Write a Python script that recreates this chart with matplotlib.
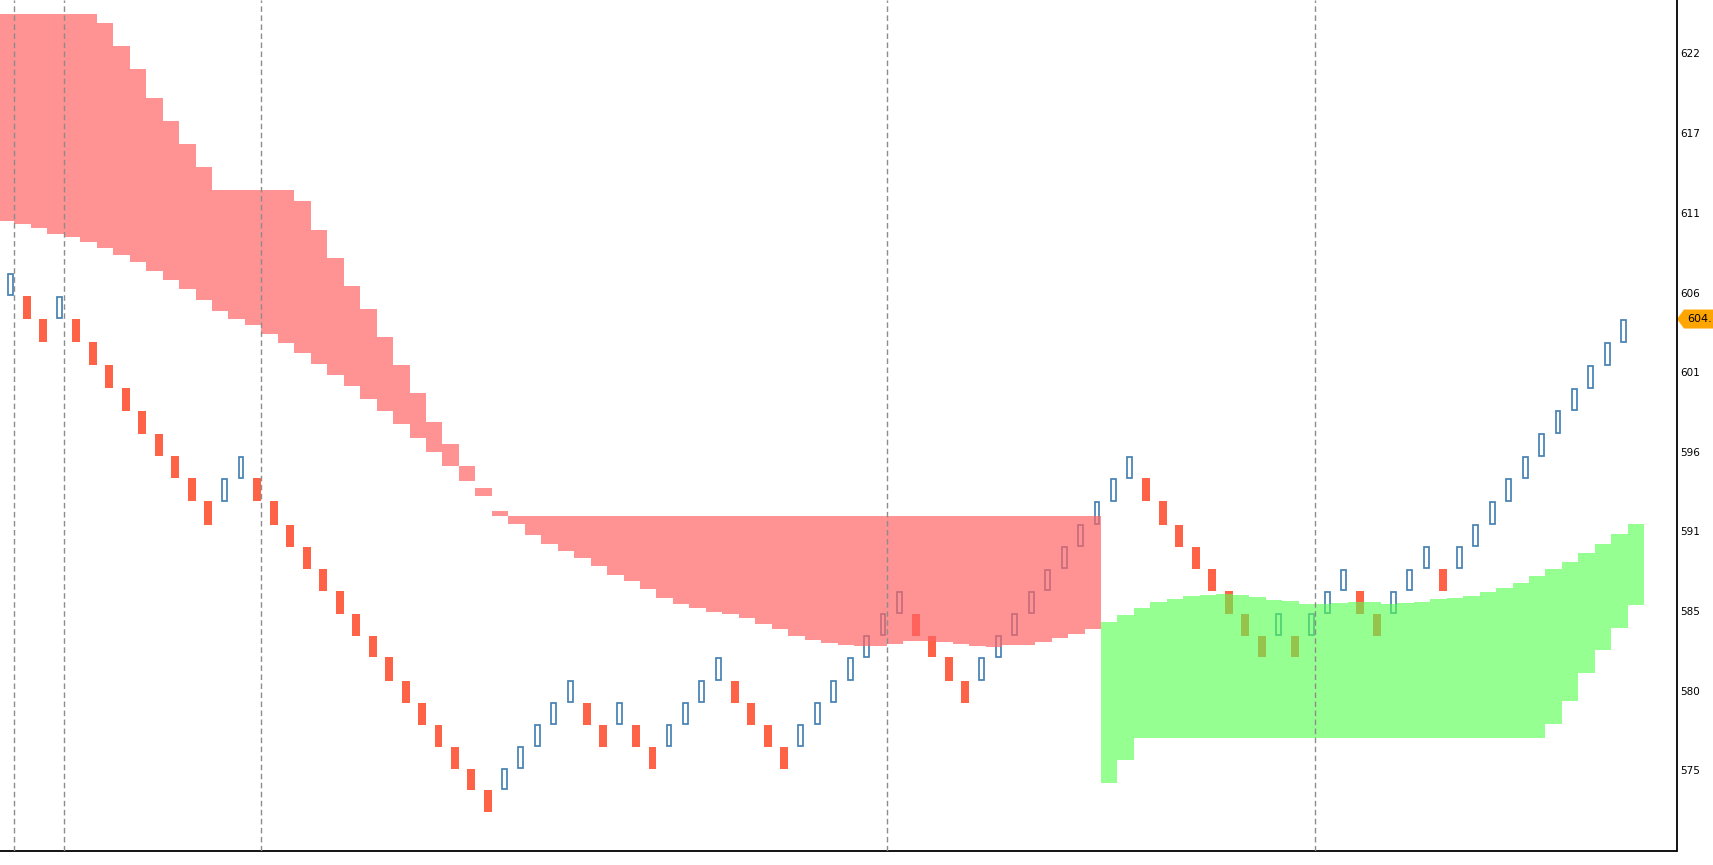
import matplotlib
matplotlib.use("Agg")
import matplotlib.pyplot as plt
import numpy as np
from matplotlib.patches import Polygon
from matplotlib.transforms import blended_transform_factory

# renko grid: price of each brick boundary, level 0 (lowest) .. 24
LEVEL_PRICES = [571.79, 573.28, 574.67, 576.13, 577.59, 579.05, 580.51, 582.05, 583.49, 584.95,
                586.45, 587.92, 589.39, 590.86, 592.40, 593.92, 595.39, 596.90, 598.43, 599.90,
                601.43, 602.95, 604.50, 606.03, 607.53]

# bottom level of each brick and its direction (u = up, d = down)
LEVELS = [23, 22, 21, 22, 21, 20, 19, 18, 17, 16, 15, 14, 13, 14, 15, 14, 13, 12, 11, 10,
          9, 8, 7, 6, 5, 4, 3, 2, 1, 0, 1, 2, 3, 4, 5, 4, 3, 4, 3, 2,
          3, 4, 5, 6, 5, 4, 3, 2, 3, 4, 5, 6, 7, 8, 9, 8, 7, 6, 5, 6,
          7, 8, 9, 10, 11, 12, 13, 14, 15, 14, 13, 12, 11, 10, 9, 8, 7, 8, 7, 8,
          9, 10, 9, 8, 9, 10, 11, 10, 11, 12, 13, 14, 15, 16, 17, 18, 19, 20, 21]
DIRS = ("uddu" "ddddddddd" "uu" "ddddddddddddddd" "uuuuu" "dd" "u" "dd" "uuuu" "dddd"
        "uuuuuuu" "dddd" "uuuuuuuuuu" "dddddddd" "u" "d" "uuu" "dd" "uuu" "d" "uuuuuuuuuuu")

# bearish cloud, one value per brick column 0..66
RED_TOP = [624.74, 624.74, 624.74, 624.74, 624.74, 624.74, 624.14, 622.62, 621.09, 619.17,
           617.64, 616.11, 614.59, 613.06, 613.06, 613.06, 613.06, 613.06, 612.33, 610.41,
           608.55, 606.69, 605.16, 603.31, 601.45, 599.59, 597.67, 596.21, 594.75, 593.29,
           591.76, 591.43, 591.43, 591.43, 591.43, 591.43, 591.43, 591.43, 591.43, 591.43,
           591.43, 591.43, 591.43, 591.43, 591.43, 591.43, 591.43, 591.43, 591.43, 591.43,
           591.43, 591.43, 591.43, 591.43, 591.43, 591.43, 591.43, 591.43, 591.43, 591.43,
           591.43, 591.43, 591.43, 591.43, 591.43, 591.43, 591.43]
RED_BOT = [611.00, 610.80, 610.54, 610.16, 609.94, 609.61, 609.21, 608.75, 608.28, 607.69,
           607.09, 606.49, 605.76, 605.03, 604.50, 604.10, 603.51, 602.91, 602.24, 601.51,
           600.78, 600.05, 599.19, 598.40, 597.53, 596.60, 595.68, 594.75, 593.75, 592.76,
           591.43, 590.90, 590.17, 589.57, 589.11, 588.64, 588.11, 587.51, 587.12, 586.58,
           585.99, 585.59, 585.32, 585.06, 584.93, 584.66, 584.26, 583.93, 583.47, 583.20,
           583.00, 582.87, 582.80, 582.80, 582.93, 583.13, 583.13, 583.07, 582.93, 582.80,
           582.76, 582.85, 582.89, 583.07, 583.33, 583.60, 583.93]
RED_START = 0

# bullish cloud, columns 67..99
GREEN_TOP = [584.39, 584.86, 585.32, 585.72, 585.92, 586.12, 586.19, 586.27, 586.19, 586.05,
             585.85, 585.79, 585.59, 585.59, 585.66, 585.72, 585.72, 585.59, 585.66, 585.72,
             585.92, 585.99, 586.12, 586.38, 586.65, 586.98, 587.45, 587.91, 588.38, 588.97,
             589.57, 590.23, 590.90]
GREEN_BOT = [573.73, 575.26, 576.70, 576.70, 576.70, 576.70, 576.70, 576.70, 576.70, 576.70,
             576.70, 576.70, 576.70, 576.70, 576.70, 576.70, 576.70, 576.70, 576.70, 576.70,
             576.70, 576.70, 576.70, 576.70, 576.70, 576.70, 576.70, 577.63, 579.15, 581.01,
             582.54, 584.00, 585.52]
GREEN_START = 67

# session breaks (brick column after which the line is drawn)
BREAKS = [0, 3, 15, 53, 79]

YTICKS = [574.56, 579.84, 585.12, 590.41, 595.70, 600.98, 606.26, 611.55, 616.83, 622.12]
YTICK_LABELS = ["575", "580", "585", "591", "596", "601", "606", "611", "617", "622"]
LAST_LABEL = "604."

W, H = 1713, 865
fig = plt.figure(figsize=(W / 100, H / 100), dpi=100)
ax = fig.add_axes([0, 14 / H, 1676.5 / W, 1 - 14 / H])

x = np.arange(len(LEVELS))
lv = np.array(LEVELS)
edges = np.array(LEVEL_PRICES)
lo, hi = edges[lv], edges[lv + 1]
up = np.array([d == "u" for d in DIRS])

ax.bar(x[~up], (hi - lo)[~up], bottom=lo[~up], width=0.48,
       color="#FF6347", linewidth=0, zorder=1)
ax.bar(x[up], (hi - lo)[up] - 0.1, bottom=lo[up] + 0.05, width=0.3,
       fill=False, edgecolor="#4682B4", linewidth=1.25, zorder=1)


def cloud(top, bot, start, color, alpha):
    xs = np.arange(start, start + len(top) + 1) - 0.76
    ax.fill_between(xs, np.append(bot, bot[-1]), np.append(top, top[-1]),
                    step="post", color=color, alpha=alpha, linewidth=0, zorder=2)


cloud(RED_TOP, RED_BOT, RED_START, "#FF6464", 0.7)
cloud(GREEN_TOP, GREEN_BOT, GREEN_START, "#55FF50", 0.62)

for b in BREAKS:
    ax.axvline(b + 0.22, color="#8c8c8c", linewidth=1.0, linestyle=(0, (4, 2.5)), zorder=3)

ax.set_xlim(-0.638, 101.2)
ax.set_ylim(569.2, 625.67)
ax.set_xticks([])
ax.yaxis.tick_right()
ax.set_yticks(YTICKS)
ax.set_yticklabels(YTICK_LABELS, fontsize=7.5, family="DejaVu Sans")
ax.tick_params(axis="y", length=0, pad=3)
for s in ("left", "top"):
    ax.spines[s].set_visible(False)
for s in ("right", "bottom"):
    ax.spines[s].set_color("black")
    ax.spines[s].set_linewidth(1.3)

# last price tag
last = LEVEL_PRICES[LEVELS[-1] + 1]
half = 9.5 / 15.07
tr = blended_transform_factory(fig.transFigure, ax.transData)
tag = Polygon([(1677 / W, last), (1684 / W, last + half), (1.0, last + half),
               (1.0, last - half), (1684 / W, last - half)], closed=True,
              transform=tr, facecolor="#FFA500", edgecolor="none", clip_on=False)
ax.add_patch(tag)
ax.text(1687 / W, last, LAST_LABEL, transform=tr, va="center", ha="left",
        fontsize=8, family="DejaVu Sans", clip_on=False)

fig.savefig("out.png", dpi=100)
